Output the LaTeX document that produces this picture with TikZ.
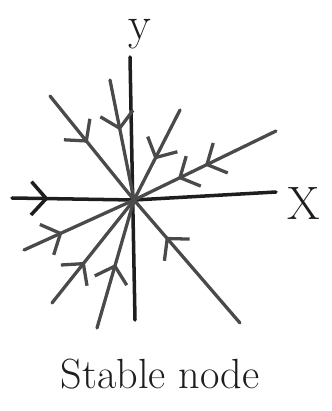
\documentclass[tikz,border=0pt]{standalone}
\usetikzlibrary{arrows.meta, decorations.markings}
\definecolor{sndink}{HTML}{1E1E1E}
\definecolor{sndgray}{HTML}{4A4A4A}
\tikzset{
  axis/.style={line width=3pt, draw=sndink, line cap=round},
  traj/.style={line width=2.8pt, draw=sndgray, line cap=round},
  barb/.tip={Straight Barb[length=4.5mm, width=10mm]},
  inflow/.style={traj, postaction={decorate}, decoration={markings,
    mark=at position #1 with {\arrow{barb}}}},
  inflowtwo/.style 2 args={traj, postaction={decorate}, decoration={markings,
    mark=at position #1 with {\arrow{barb}},
    mark=at position #2 with {\arrow{barb}}}},
  lbl/.style={font=\fontsize{40}{44}\selectfont, text=sndink, inner sep=0pt},
}
\begin{document}
\begin{tikzpicture}[x=0.3mm, y=-0.3mm]
  \useasboundingbox (0,0) rectangle (331,411);
  % centre and outer ends
  \coordinate (O) at (134,200);
  \coordinate (yt) at (130,57);
  \coordinate (yb) at (135,320);
  \coordinate (xl) at (12,198);
  \coordinate (xr) at (276,192);
  \coordinate (ul) at (50,96);
  \coordinate (un) at (110,80);
  \coordinate (ur) at (180,110);
  \coordinate (rs) at (276,131);
  \coordinate (ll) at (24,250);
  \coordinate (lm) at (52,303);
  \coordinate (ln) at (97,328);
  \coordinate (lr) at (240,323);
  % axes
  \draw[axis] (yt) -- (yb);
  \draw[axis] (O) -- (xr);
  \draw[inflow=0.3, axis] (xl) -- (O);
  \node[lbl] (ylab) at (140,34) {y};
  \node[lbl] (xlab) at (304,203) {X};
  % trajectories into the node
  \foreach \a/\p in {ul/0.45, un/0.42, ur/0.55, ll/0.35, lm/0.4, ln/0.5, lr/0.7}
    \draw[inflow=\p] (\a) -- (O);
  \draw[inflowtwo={0.5}{0.69}] (rs) -- (O);
  \node[font=\fontsize{36}{40}\selectfont, text=sndink] (name) at (160,374) {Stable node};
\end{tikzpicture}
\end{document}
